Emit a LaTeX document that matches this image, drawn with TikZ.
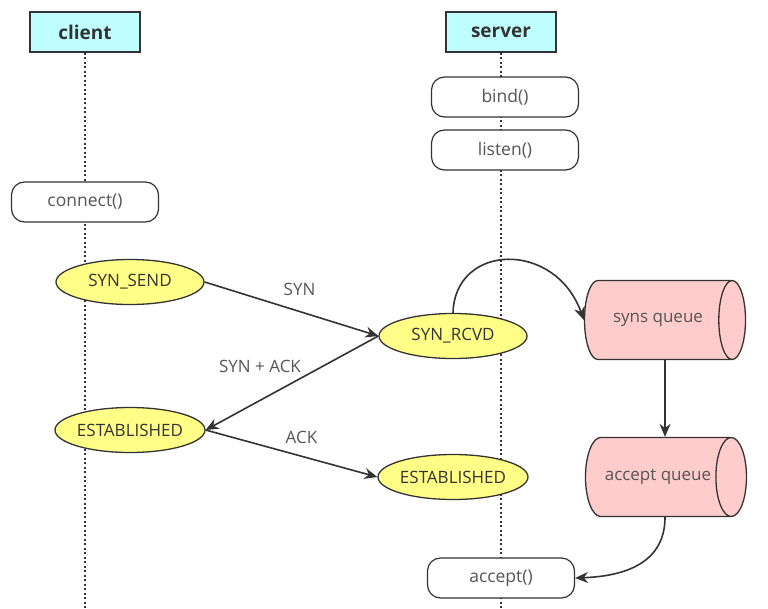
\documentclass[tikz,border=0pt]{standalone}
\usepackage{fontspec}
\setmainfont{Open Sans}
\usetikzlibrary{shapes.geometric,arrows.meta}
\definecolor{ln}{HTML}{333333}
\definecolor{txt}{HTML}{555555}
\definecolor{headfill}{HTML}{BFFFFF}
\definecolor{statefill}{HTML}{FFFF88}
\definecolor{queuefill}{HTML}{FFCCCC}
\tikzset{
  head/.style={draw=ln,line width=1.4pt,fill=headfill,minimum width=110pt,minimum height=40pt,inner sep=0pt,font=\fontsize{19}{22}\selectfont\bfseries,text=ln},
  call/.style={draw=ln,line width=1.2pt,fill=white,rounded corners=13pt,minimum width=147pt,minimum height=40pt,inner sep=0pt,font=\fontsize{17.5}{20}\selectfont,text=txt},
  state/.style={ellipse,draw=ln,line width=1.3pt,fill=statefill,minimum width=148pt,minimum height=45pt,inner sep=0pt,font=\fontsize{17}{20}\selectfont,text=ln},
  queue/.style={cylinder,draw=ln,line width=1.3pt,fill=queuefill,cylinder uses custom fill,cylinder body fill=queuefill,cylinder end fill=queuefill,shape aspect=2,minimum width=79pt,minimum height=161pt,inner sep=0pt,font=\fontsize{17}{20}\selectfont,text=txt},
  life/.style={draw=ln,line width=2pt,dash pattern=on 2pt off 2.5pt},
  msg/.style={draw=ln,line width=1.6pt,-{Stealth[length=13pt,width=11pt]}},
  lbl/.style={font=\fontsize{17}{20}\selectfont,text=txt},
}
\begin{document}
\begin{tikzpicture}[x=1pt,y=-1pt]
\useasboundingbox[fill=white] (0,0) rectangle (768,608);
% lifelines
\coordinate (cbot) at (85,608);
\coordinate (sbot) at (501,608);
\node[head] (client) at (85,32) {client};
\node[head] (server) at (501,32) {server};
\draw[life] (client.south) -- (cbot);
\draw[life] (server.south) -- (sbot);
% calls
\node[call] (connect) at (85,202) {connect()};
\node[call] (bind) at (505,97) {bind()};
\node[call] (listen) at (505,150) {listen()};
\node[call] (accept) at (501,578) {accept()};
% states
\node[state] (synsend) at (130,282) {SYN\_SEND};
\node[state] (synrcvd) at (453,336) {SYN\_RCVD};
\node[state] (estc) at (130,430) {ESTABLISHED};
\node[state] (ests) at (453,477) {ESTABLISHED};
% queues
\node[queue] (synq) at (658,320) {syns queue};
\node[queue] (accq) at (658,477) {accept queue};
% messages
\draw[msg] (synsend.east) -- node[lbl,pos=0.5,above=9pt,xshift=8pt] {SYN} (synrcvd.west);
\draw[msg] (synrcvd.west) -- node[lbl,pos=0.5,above=6pt,xshift=-32pt] {SYN + ACK} (estc.east);
\draw[msg] (estc.east) -- node[lbl,pos=0.5,above=6pt,xshift=10pt] {ACK} (ests.west);
% queue flow
\draw[msg] (synrcvd.north) .. controls (455,243) and (555,240) .. (synq.west);
\draw[msg] ([xshift=7pt]synq.south) -- ([xshift=7pt]accq.north);
\draw[msg] ([xshift=7pt]accq.south) .. controls (665,560) and (630,576) .. (accept.east);
\end{tikzpicture}
\end{document}
